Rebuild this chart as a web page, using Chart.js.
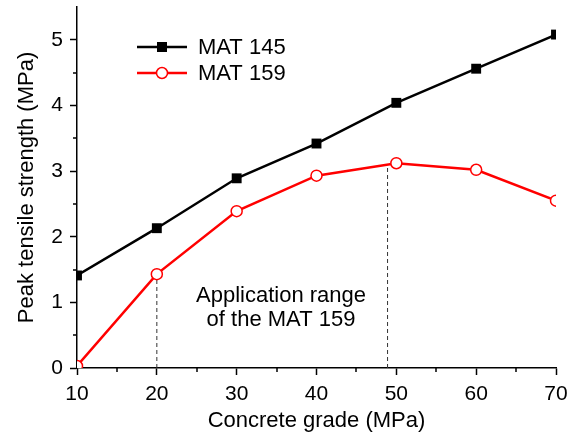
<!DOCTYPE html>
<html>
<head>
<meta charset="utf-8">
<script src="https://cdn.jsdelivr.net/npm/chart.js@4.4.1/dist/chart.umd.min.js"></script>
<style>
  html, body { margin: 0; padding: 0; background: #fff; }
  #wrap { width: 584px; height: 438px; }
</style>
</head>
<body>
<div id="wrap"><canvas id="strengthChart" width="584" height="438"></canvas></div>
<script>
// concrete grades (MPa) and peak tensile strength
const grades = [10, 20, 30, 40, 50, 60, 70];
const mat145 = [1.41, 2.13, 2.89, 3.42, 4.04, 4.56, 5.08];
const mat159 = [0.03, 1.43, 2.39, 2.93, 3.12, 3.02, 2.55];

// dashed markers bounding the application range of MAT 159
const rangeX = [20, 48.9];
const rangeTop = [1.36, 3.05];

const FONT = 'Arial, "Liberation Sans", Helvetica, sans-serif';

const toPoints = (xs, ys) => xs.map((x, i) => ({ x: x, y: ys[i] }));

const rangeSets = rangeX.map((x, i) => ({
    label: 'range' + i,
    data: [{ x: x, y: 0 }, { x: x, y: rangeTop[i] }],
    borderColor: '#333',
    borderWidth: 1,
    borderDash: [4, 3],
    pointRadius: 0,
    fill: false
}));

// keep markers inside the plot frame, like the original
const clipToArea = {
    id: 'clipToArea',
    beforeDatasetsDraw(chart) {
        const a = chart.chartArea;
        chart.ctx.save();
        chart.ctx.beginPath();
        chart.ctx.rect(a.left, a.top, a.right - a.left, a.bottom - a.top);
        chart.ctx.clip();
    },
    afterDatasetsDraw(chart) {
        chart.ctx.restore();
    }
};

// minor ticks between the labelled ones
const minorTicks = {
    id: 'minorTicks',
    afterDraw(chart) {
        const ctx = chart.ctx;
        const xs = chart.scales.x, ys = chart.scales.y;
        ctx.save();
        ctx.strokeStyle = '#000';
        ctx.lineWidth = 1.5;
        ctx.beginPath();
        for (let v = 15; v < 70; v += 10) {
            const px = Math.round(xs.getPixelForValue(v));
            ctx.moveTo(px, xs.top);
            ctx.lineTo(px, xs.top + 4);
        }
        for (let v = 0.5; v < 5.5; v += 1) {
            const py = Math.round(ys.getPixelForValue(v));
            ctx.moveTo(ys.right, py);
            ctx.lineTo(ys.right - 4, py);
        }
        ctx.stroke();
        ctx.restore();
    }
};

// legend with line + marker, and the range note
const notes = {
    id: 'notes',
    afterDraw(chart) {
        const ctx = chart.ctx;
        ctx.save();
        const rows = [
            { y: 47, color: '#000', text: 'MAT 145', square: true },
            { y: 73, color: '#f00', text: 'MAT 159', square: false }
        ];
        rows.forEach(r => {
            ctx.strokeStyle = r.color;
            ctx.lineWidth = 2.5;
            ctx.beginPath();
            ctx.moveTo(137, r.y);
            ctx.lineTo(187, r.y);
            ctx.stroke();
            if (r.square) {
                ctx.fillStyle = '#000';
                ctx.fillRect(157, r.y - 5, 10, 10);
            } else {
                ctx.fillStyle = '#fff';
                ctx.lineWidth = 1.5;
                ctx.beginPath();
                ctx.arc(162, r.y, 5.5, 0, Math.PI * 2);
                ctx.fill();
                ctx.stroke();
            }
            ctx.fillStyle = '#000';
            ctx.font = '22px ' + FONT;
            ctx.textAlign = 'left';
            ctx.textBaseline = 'middle';
            ctx.fillText(r.text, 198, r.y + 1);
        });
        ctx.textAlign = 'center';
        ctx.textBaseline = 'alphabetic';
        ctx.fillText('Application range', 281, 302);
        ctx.fillText('of the MAT 159', 281, 326);
        ctx.restore();
    }
};

const chart = new Chart(document.getElementById('strengthChart').getContext('2d'), {
    type: 'line',
    data: {
        datasets: [
            {
                label: 'MAT 159',
                data: toPoints(grades, mat159),
                borderColor: '#f00',
                borderWidth: 2.5,
                pointStyle: 'circle',
                pointRadius: 5.5,
                pointBorderWidth: 1.5,
                pointBackgroundColor: '#fff',
                pointBorderColor: '#f00',
                tension: 0
            },
            {
                label: 'MAT 145',
                data: toPoints(grades, mat145),
                borderColor: '#000',
                borderWidth: 2.5,
                pointStyle: 'rect',
                pointRadius: 7,
                pointBackgroundColor: '#000',
                pointBorderColor: '#000',
                pointBorderWidth: 0,
                tension: 0
            },
            ...rangeSets
        ]
    },
    options: {
        responsive: false,
        animation: false,
        layout: { padding: { top: 5, right: 28, left: 0, bottom: 0 } },
        plugins: {
            legend: { display: false },
            tooltip: { enabled: false }
        },
        scales: {
            x: {
                type: 'linear',
                min: 10,
                max: 70,
                afterFit(scale) { scale.height = 70; },
                border: { display: true, color: '#000', width: 1.5 },
                grid: { drawOnChartArea: false, drawTicks: true, tickLength: 7, tickColor: '#000', tickWidth: 1.5 },
                ticks: { stepSize: 10, color: '#000', padding: 7, font: { family: FONT, size: 21 } },
                title: {
                    display: true,
                    text: 'Concrete grade (MPa)',
                    color: '#000',
                    font: { family: FONT, size: 22 },
                    padding: { top: 0, bottom: 4 }
                }
            },
            y: {
                type: 'linear',
                min: 0,
                max: 5.5,
                afterFit(scale) {
                    scale.width = 77;
                    scale.paddingTop = 0;
                    scale.paddingBottom = 0;
                },
                afterBuildTicks(scale) {
                    scale.ticks = scale.ticks.filter(t => Number.isInteger(t.value));
                },
                border: { display: true, color: '#000', width: 1.5 },
                grid: { drawOnChartArea: false, drawTicks: true, tickLength: 7, tickColor: '#000', tickWidth: 1.5 },
                ticks: { stepSize: 1, color: '#000', padding: 7, font: { family: FONT, size: 21 } },
                title: {
                    display: true,
                    text: 'Peak tensile strength (MPa)',
                    color: '#000',
                    font: { family: FONT, size: 22 },
                    padding: { top: 14, bottom: 0 }
                }
            }
        }
    },
    plugins: [clipToArea, minorTicks, notes]
});
</script>
</body>
</html>
